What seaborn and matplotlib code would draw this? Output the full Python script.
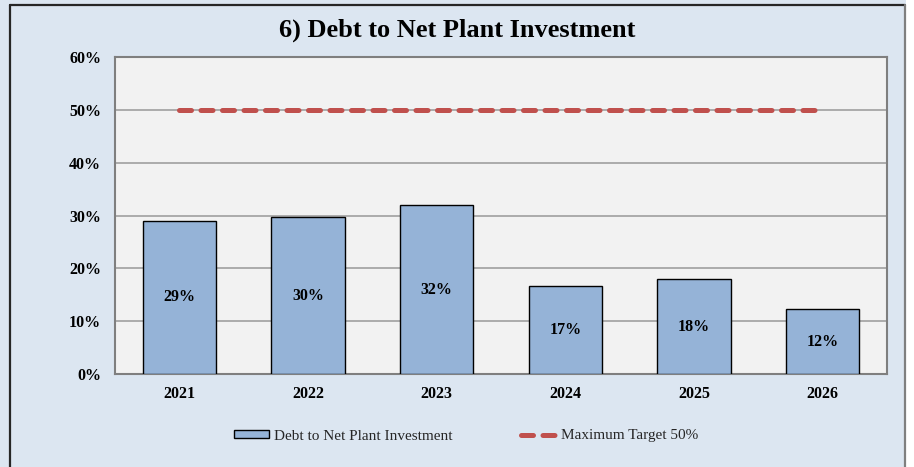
import matplotlib
matplotlib.use("Agg")
import matplotlib.pyplot as plt
import seaborn as sns
import numpy as np
import pandas as pd
from matplotlib.patches import Rectangle, Patch
from matplotlib.lines import Line2D

# Chart data
years = ["2021", "2022", "2023", "2024", "2025", "2026"]
debt_ratio = [29.0, 29.7, 31.9, 16.6, 17.9, 12.3]   # percent
target = [50, 50, 50, 50, 50, 50]                    # percent
yticks = [0, 10, 20, 30, 40, 50, 60]

title = "6) Debt to Net Plant Investment"
bar_label = "Debt to Net Plant Investment"
target_label = "Maximum Target 50%"

sns.set_theme(style="white")
plt.rcParams["font.family"] = ["Liberation Serif", "DejaVu Serif"]

W, H = 914, 467
fig = plt.figure(figsize=(W / 100, H / 100), dpi=100)
fig.patch.set_facecolor("white")

# Panel background and frame lines
fig.patches.append(Rectangle((0, 0), 906 / W, 1, transform=fig.transFigure,
                             facecolor="#dce6f1", edgecolor="none", zorder=-10))
fig.lines.append(Line2D([10 / W, 10 / W], [0, 1 - 5 / H], transform=fig.transFigure,
                        color="#262626", lw=1.6, zorder=-5))
fig.lines.append(Line2D([10 / W, 905 / W], [1 - 5 / H, 1 - 5 / H], transform=fig.transFigure,
                        color="#262626", lw=1.6, zorder=-5))
fig.lines.append(Line2D([905 / W, 905 / W], [0, 1 - 5 / H], transform=fig.transFigure,
                        color="#7f7f7f", lw=1.6, zorder=-5))

ax = fig.add_axes([115 / W, 1 - 374 / H, (887 - 115) / W, (374 - 57) / H])
ax.set_zorder(1)
ax.set_facecolor("#f2f2f2")

df = pd.DataFrame({"year": years, "ratio": debt_ratio})
sns.barplot(data=df, x="year", y="ratio", color="#95b3d7", saturation=1,
            edgecolor="black", linewidth=1.0, width=0.57, ax=ax, zorder=3)

x = np.arange(len(years))
ax.plot(x, target, color="#c0504d", lw=3.6, dashes=(2.4, 1.9),
        dash_capstyle="round", zorder=4)

# Value labels centred inside each bar
for xi, v in zip(x, debt_ratio):
    ax.text(xi, v / 2, f"{v:.0f}%", ha="center", va="center",
            fontsize=11.5, fontweight="bold", color="black", zorder=5)

ax.set_xlim(-0.5, len(years) - 0.5)
ax.set_ylim(0, 60)
ax.set_yticks(yticks)
ax.set_yticklabels([f"{t}%" for t in yticks])
ax.yaxis.grid(True, color="#a6a6a6", lw=1.3, zorder=0)
ax.set_axisbelow(True)
ax.set_xlabel("")
ax.set_ylabel("")
ax.tick_params(axis="both", length=0, labelsize=11.5, colors="black")
ax.tick_params(axis="y", pad=10)
ax.tick_params(axis="x", pad=9)
for lab in ax.get_xticklabels() + ax.get_yticklabels():
    lab.set_fontweight("bold")
for s in ax.spines.values():
    s.set_color("#7f7f7f")
    s.set_linewidth(1.5)

fig.text(457 / W, 1 - 30 / H, title, ha="center", va="center",
         fontsize=19, fontweight="bold", color="black")

handles = [
    Patch(facecolor="#95b3d7", edgecolor="black", linewidth=1.0, label=bar_label),
    Line2D([0], [0], color="#c0504d", lw=3.6, dashes=(2.4, 1.9),
           dash_capstyle="round", label=target_label),
]
fig.legend(handles=handles, loc="center", bbox_to_anchor=(466 / W, 1 - 436 / H),
           ncol=2, frameon=False, fontsize=11, handlelength=2.3, handleheight=0.5,
           handletextpad=0.3, columnspacing=4.5)

fig.savefig("out.png", dpi=100, facecolor=fig.get_facecolor())
